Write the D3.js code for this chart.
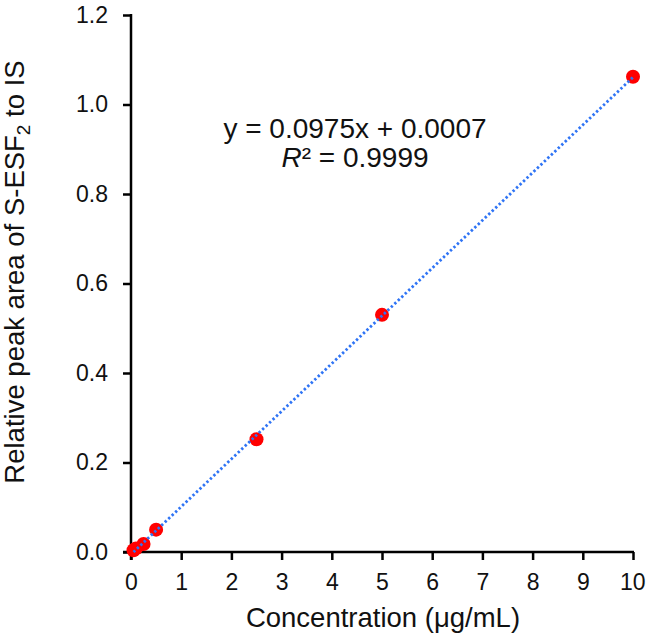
<!DOCTYPE html>
<html>
<head>
<meta charset="utf-8">
<script src="https://cdn.jsdelivr.net/npm/d3@7"></script>
<style>
body { margin: 0; background: #fff; }
svg text { font-family: "Liberation Sans", Arial, sans-serif; fill: #111; }
</style>
</head>
<body>
<svg id="chart" width="646" height="643"></svg>
<script>
"use strict"

// calibration data
var conc  = [0.05, 0.1, 0.25, 0.5, 2.5, 5, 10];
var ratio = [0.004, 0.008, 0.018, 0.05, 0.252, 0.530, 1.062];
var xticks = [0, 1, 2, 3, 4, 5, 6, 7, 8, 9, 10];
var yticks = [0, 0.2, 0.4, 0.6, 0.8, 1.0, 1.2];
var eqText = "y = 0.0975x + 0.0007";
var r2Text = "0.9999";

var svg = d3.select("#chart");
var x = d3.scaleLinear().domain([0, 10]).range([131, 633]);
var y = d3.scaleLinear().domain([0, 1.2]).range([552, 15]);

// axes
var xAxis = d3.axisBottom(x).tickValues(xticks).tickSize(8).tickPadding(14)
              .tickFormat(d3.format("d"));
var yAxis = d3.axisLeft(y).tickValues(yticks).tickSize(8).tickPadding(15)
              .tickFormat(d3.format(".1f"));

var gx = svg.append("g").attr("transform", "translate(0," + y(0) + ")").call(xAxis);
var gy = svg.append("g").attr("transform", "translate(" + x(0) + ",0)").call(yAxis);

[gx, gy].forEach(function(g){
	g.select(".domain").remove();
	g.selectAll(".tick line").attr("stroke", "#000").attr("stroke-width", 2.5);
	g.selectAll(".tick text").style("font-size", "23px").attr("fill", "#111");
});
// last x label kept inside the frame
gx.selectAll(".tick text").filter(function(d){ return d === 10; })
  .attr("text-anchor", "end").attr("x", 12);

svg.append("line")
   .attr("x1", x(0) - 8).attr("x2", x(10) + 1)
   .attr("y1", y(0)).attr("y2", y(0))
   .attr("stroke", "#000").attr("stroke-width", 2.5);
svg.append("line")
   .attr("x1", x(0)).attr("x2", x(0))
   .attr("y1", y(0) + 8).attr("y2", y(1.2) - 1)
   .attr("stroke", "#000").attr("stroke-width", 2.5);

// points
var pts = conc.map(function(c, i){ return {x: c, y: ratio[i]}; });
svg.append("g").selectAll("circle")
   .data(pts).enter()
   .append("circle")
   .attr("cx", function(d){ return x(d.x); })
   .attr("cy", function(d){ return y(d.y); })
   .attr("r", 7)
   .attr("fill", "#ff0000");

// least squares trendline through the points
var mx = d3.mean(conc), my = d3.mean(ratio);
var sxy = d3.sum(conc, function(c, i){ return (c - mx) * (ratio[i] - my); });
var sxx = d3.sum(conc, function(c){ return (c - mx) * (c - mx); });
var slope = sxy / sxx, icpt = my - slope * mx;
var x0 = d3.min(conc), x1 = d3.max(conc);
svg.append("line")
   .attr("x1", x(x0)).attr("y1", y(slope * x0 + icpt))
   .attr("x2", x(x1)).attr("y2", y(slope * x1 + icpt))
   .attr("stroke", "#2f74f5")
   .attr("stroke-width", 2.8)
   .attr("stroke-dasharray", "2.4,2.4");

// equation
svg.append("text")
   .attr("x", 355).attr("y", 138)
   .attr("text-anchor", "middle")
   .style("font-size", "28px")
   .text(eqText);
var r2 = svg.append("text")
   .attr("x", 355).attr("y", 167)
   .attr("text-anchor", "middle")
   .style("font-size", "28px");
r2.append("tspan").style("font-style", "italic").text("R");
r2.append("tspan").text("² = " + r2Text);

// axis titles
svg.append("text")
   .attr("x", 383).attr("y", 627)
   .attr("text-anchor", "middle")
   .style("font-size", "27.5px")
   .text("Concentration (μg/mL)");

var yt = svg.append("text")
   .attr("transform", "translate(24,272) rotate(-90)")
   .attr("text-anchor", "middle")
   .style("font-size", "27.5px");
yt.append("tspan").text("Relative peak area of S-ESF");
yt.append("tspan").attr("dy", 6).style("font-size", "19px").text("2");
yt.append("tspan").attr("dy", -6).text(" to IS");
</script>
</body>
</html>
